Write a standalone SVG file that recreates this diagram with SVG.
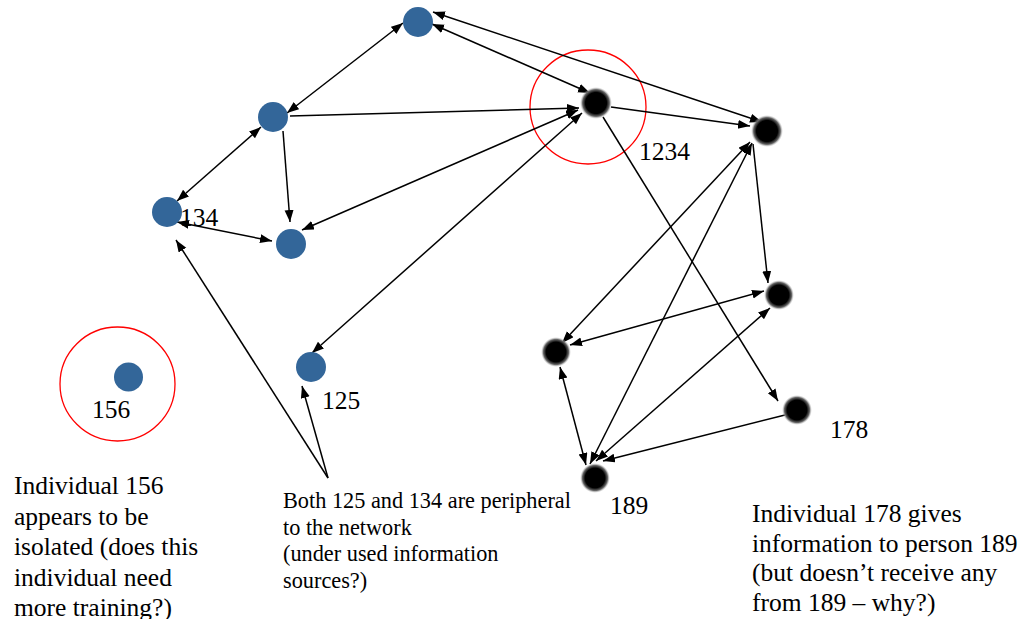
<svg xmlns="http://www.w3.org/2000/svg" width="1024" height="619" viewBox="0 0 1024 619">
<style>
.t{font-family:"Liberation Serif","Times New Roman",serif;fill:#000;font-size:25.5px}
.s{font-size:22.3px}
.e{stroke:#000;stroke-width:1.5;fill:none}
.b{fill:#336699}
.k{fill:url(#blk)}
.r{fill:none;stroke:#ff0000;stroke-width:1.3}
</style>
<defs>
<marker id="ah" markerWidth="13" markerHeight="10" refX="12" refY="4.5" orient="auto-start-reverse" markerUnits="userSpaceOnUse">
<path d="M0,0 L12,4.5 L0,9 z" fill="#000"/>
</marker>
<radialGradient id="blk">
<stop offset="0" stop-color="#000"/>
<stop offset="0.66" stop-color="#000"/>
<stop offset="0.84" stop-color="#666"/>
<stop offset="1" stop-color="#ccc" stop-opacity="0"/>
</radialGradient>
</defs>
<rect width="1024" height="619" fill="#fff"/>
<g id="highlights">
<ellipse class="r" cx="588" cy="107" rx="58" ry="57"/>
<ellipse class="r" cx="117.5" cy="384" rx="57.5" ry="57"/>
</g>
<g id="connectors">
<line class="e" x1="287" y1="113" x2="403" y2="23" marker-start="url(#ah)" marker-end="url(#ah)"/>
<line class="e" x1="290" y1="116" x2="579" y2="108" marker-end="url(#ah)"/>
<line class="e" x1="283" y1="131" x2="290" y2="222" marker-end="url(#ah)"/>
<line class="e" x1="261" y1="127" x2="177" y2="201" marker-start="url(#ah)" marker-end="url(#ah)"/>
<line class="e" x1="177" y1="222" x2="272" y2="241" marker-start="url(#ah)" marker-end="url(#ah)"/>
<line class="e" x1="302" y1="230" x2="578" y2="110" marker-start="url(#ah)" marker-end="url(#ah)"/>
<line class="e" x1="312" y1="353" x2="582" y2="113" marker-start="url(#ah)" marker-end="url(#ah)"/>
<line class="e" x1="432" y1="24" x2="590" y2="93" marker-start="url(#ah)" marker-end="url(#ah)"/>
<line class="e" x1="433" y1="12" x2="762" y2="122" marker-start="url(#ah)" marker-end="url(#ah)"/>
<line class="e" x1="611" y1="107" x2="750" y2="126" marker-end="url(#ah)"/>
<line class="e" x1="603" y1="117" x2="778" y2="401" marker-end="url(#ah)"/>
<line class="e" x1="750" y1="142" x2="562" y2="343" marker-start="url(#ah)" marker-end="url(#ah)"/>
<line class="e" x1="752" y1="143" x2="590" y2="464" marker-start="url(#ah)" marker-end="url(#ah)"/>
<line class="e" x1="753" y1="144" x2="768" y2="283" marker-end="url(#ah)"/>
<line class="e" x1="764" y1="291" x2="570" y2="345" marker-start="url(#ah)" marker-end="url(#ah)"/>
<line class="e" x1="770" y1="308" x2="596" y2="461" marker-start="url(#ah)" marker-end="url(#ah)"/>
<line class="e" x1="560" y1="367" x2="586" y2="465" marker-start="url(#ah)" marker-end="url(#ah)"/>
<line class="e" x1="785" y1="415" x2="603" y2="461" marker-end="url(#ah)"/>
<line class="e" x1="328" y1="478" x2="176" y2="240" marker-end="url(#ah)"/>
<line class="e" x1="328" y1="478" x2="302" y2="386" marker-end="url(#ah)"/>
</g>
<g id="node-a"><circle class="b" cx="418" cy="22" r="15"/></g>
<g id="node-b"><circle class="b" cx="273" cy="117" r="15"/></g>
<g id="node-134"><circle class="b" cx="167" cy="212" r="15"/><text class="t" x="180" y="226">134</text></g>
<g id="node-d"><circle class="b" cx="291" cy="244" r="15"/></g>
<g id="node-125"><circle class="b" cx="311" cy="367" r="15"/><text class="t" x="322" y="409">125</text></g>
<g id="node-156"><circle class="b" cx="128.5" cy="377" r="14.5"/><text class="t" x="92" y="418">156</text></g>
<g id="node-1234"><circle class="k" cx="596" cy="103" r="16"/><text class="t" x="639" y="160">1234</text></g>
<g id="node-h"><circle class="k" cx="767" cy="131" r="16"/></g>
<g id="node-i"><circle class="k" cx="779" cy="295" r="15"/></g>
<g id="node-j"><circle class="k" cx="556" cy="352" r="15"/></g>
<g id="node-178"><circle class="k" cx="797" cy="410" r="15"/><text class="t" x="830" y="438">178</text></g>
<g id="node-189"><circle class="k" cx="595" cy="478" r="15"/><text class="t" x="610" y="514">189</text></g>
<g id="note-156">
<text class="t" x="14" y="494">Individual 156</text>
<text class="t" x="14" y="524.5">appears to be</text>
<text class="t" x="14" y="555">isolated (does this</text>
<text class="t" x="14" y="585.5">individual need</text>
<text class="t" x="14" y="616">more training?)</text>
</g>
<g id="note-peripheral">
<text class="t s" x="283" y="508">Both 125 and 134 are peripheral</text>
<text class="t s" x="283" y="534.5">to the network</text>
<text class="t s" x="283" y="561">(under used information</text>
<text class="t s" x="283" y="587.5">sources?)</text>
</g>
<g id="note-178">
<text class="t" x="752" y="522">Individual 178 gives</text>
<text class="t" x="752" y="551.5">information to person 189</text>
<text class="t" x="752" y="581">(but doesn’t receive any</text>
<text class="t" x="752" y="610.5">from 189 – why?)</text>
</g>
</svg>
